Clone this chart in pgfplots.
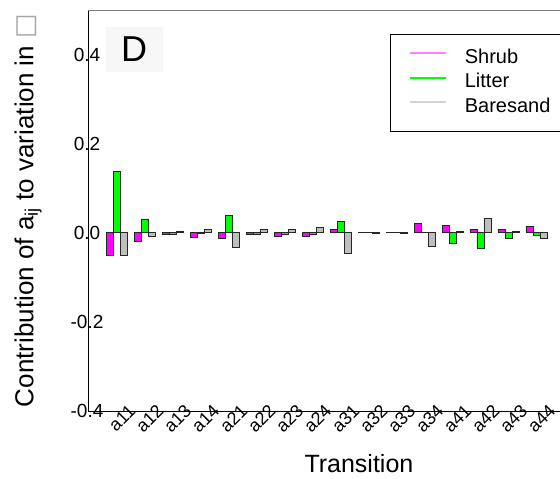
\documentclass[border=0pt]{standalone}
\usepackage{pgfplots}
\pgfplotsset{compat=1.18}
\usepackage{pgfplotstable}
\usepackage{fontspec}
\setmainfont{Liberation Sans}
\newfontfamily\dejavu{DejaVu Sans}
\definecolor{shrub}{HTML}{FF00FF}
\definecolor{shrubleg}{HTML}{FF80FF}
\definecolor{litter}{HTML}{00FF00}
\definecolor{bare}{HTML}{BEBEBE}
\definecolor{bareleg}{HTML}{D3D3D3}

\pgfplotstableread{
x shrub litter bare
0 -0.050 0.138 -0.050
1 -0.020 0.031 -0.009
2 -0.004 -0.003 0.004
3 -0.010 -0.001 0.007
4 -0.013 0.038 -0.032
5 -0.004 -0.003 0.007
6 -0.007 -0.003 0.007
7 -0.007 -0.003 0.011
8 0.008 0.026 -0.047
9 0.000 0.000 -0.001
10 0.000 0.000 -0.002
11 0.020 0.000 -0.030
12 0.017 -0.024 0.003
13 0.007 -0.035 0.032
14 0.008 -0.013 0.002
15 0.014 -0.005 -0.013
}\datatable

\begin{document}
\begin{tikzpicture}
\begin{axis}[
  at={(0pt,0pt)}, anchor=south west,
  scale only axis, width=472pt, height=401pt,
  xmin=-1.02, xmax=15.84, ymin=-0.4, ymax=0.5,
  ybar=0pt, bar width=0.25,
  xtick={0,...,15},
  xticklabels={a11,a12,a13,a14,a21,a22,a23,a24,a31,a32,a33,a34,a41,a42,a43,a44},
  ytick={-0.4,-0.2,0,0.2,0.4},
  yticklabels={-0.4,-0.2,0.0,0.2,0.4},
  major tick length=0pt,
  axis x line*=bottom, axis y line*=left,
  axis line style={black, line width=0.8pt},
  yticklabel style={font=\fontsize{19}{22}\selectfont, anchor=center, xshift=-1pt},
  xticklabel style={font=\fontsize{18}{20}\selectfont, rotate=45, anchor=east, inner sep=0pt, xshift=13.5pt, yshift=-8.8pt},
  xlabel={Transition},
  xlabel style={at={(axis description cs:0.574,-0.132)}, anchor=center, font=\fontsize{25}{30}\selectfont},
  ylabel={Contribution of a\textsubscript{ij} to variation in {\dejavu\color{black!35}□}},
  ylabel style={at={(axis description cs:-0.127,0.5)}, anchor=center, font=\fontsize{26}{30}\selectfont},
  legend style={at={(axis description cs:0.640,0.940)}, anchor=north west,
    draw=black, line width=0.8pt, fill=white,
    font=\fontsize{20}{24}\selectfont,
    inner xsep=10pt, inner ysep=15pt, row sep=6.5pt,
    nodes={inner sep=0pt, text height=14pt, text depth=4pt},
    /tikz/every odd column/.append style={column sep=18pt}},
  legend cell align=left,
]
\addlegendimage{legend image code/.code={\path (0pt,0pt); \draw[shrubleg, line width=2pt] (9pt,5pt) -- (45pt,5pt);}}
\addlegendentry{Shrub}
\addlegendimage{legend image code/.code={\path (0pt,0pt); \draw[litter, line width=2pt] (9pt,5pt) -- (45pt,5pt);}}
\addlegendentry{Litter}
\addlegendimage{legend image code/.code={\path (0pt,0pt); \draw[bareleg, line width=2pt] (9pt,5pt) -- (45pt,5pt);}}
\addlegendentry{Baresand}
\addplot[forget plot, bar shift=-0.25, fill=shrub, draw=black!85, line width=0.8pt] table[x=x, y=shrub] {\datatable};
\addplot[forget plot, bar shift=0, fill=litter, draw=black!85, line width=0.8pt] table[x=x, y=litter] {\datatable};
\addplot[forget plot, bar shift=0.25, fill=bare, draw=black!85, line width=0.8pt] table[x=x, y=bare] {\datatable};
\draw[black!50, line width=1.2pt] (rel axis cs:0,1) -- (rel axis cs:1,1);
\node[fill=black!3, minimum width=57pt, minimum height=45pt, inner sep=0pt, font=\fontsize{36}{40}\selectfont] at (rel axis cs:0.0975,0.9015) {D};
\end{axis}
\pgfresetboundingbox
\path[use as bounding box] (-88pt,-68pt) rectangle (472pt,411pt);
\end{tikzpicture}
\end{document}
